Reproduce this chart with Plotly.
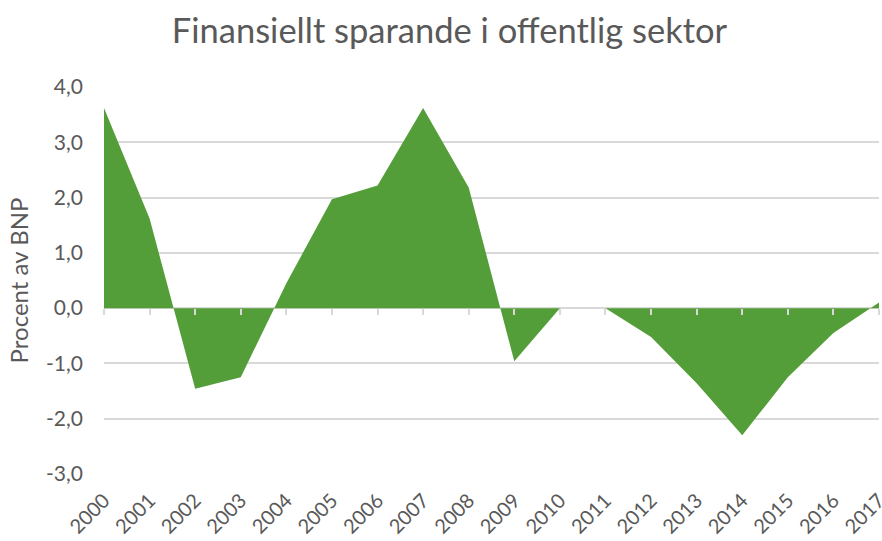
import plotly.graph_objects as go

years = [str(y) for y in range(2000, 2018)]
values = [3.62, 1.62, -1.46, -1.25, 0.45, 1.97, 2.22, 3.62, 2.18, -0.96,
          0.0, 0.0, -0.52, -1.36, -2.3, -1.25, -0.45, 0.1]
ytick_vals = [-3, -2, -1, 0, 1, 2, 3, 4]
ytick_text = [f"{v:.1f}".replace(".", ",") for v in ytick_vals]

FONT = "Lato"
GREY = "#595959"

fig = go.Figure()
fig.add_trace(go.Scatter(
    x=years, y=values, mode="lines", fill="tozeroy",
    fillcolor="#549E39", line=dict(width=0, color="#549E39"),
    hoverinfo="x+y", showlegend=False,
))
# invisible trace to carry the tick axis at y = 0
fig.add_trace(go.Scatter(x=years, y=[0] * len(years), xaxis="x2", mode="lines",
                         line=dict(width=0), hoverinfo="skip", showlegend=False))

ymin, ymax = -3, 4
zero_pos = (0 - ymin) / (ymax - ymin)

fig.update_layout(
    width=882, height=541,
    margin=dict(l=104, r=3, t=87, b=67, autoexpand=False),
    paper_bgcolor="white", plot_bgcolor="white",
    title=dict(text="Finansiellt sparande i offentlig sektor", x=0.5096, xanchor="center",
               y=0.943, yanchor="middle",
               font=dict(family=FONT, size=34.5, color=GREY)),
    font=dict(family=FONT, color=GREY),
    xaxis=dict(type="category", range=[0, 17], showgrid=False, zeroline=False,
               showline=False, ticks="", tickangle=-45, automargin=False,
               ticklabelstandoff=10,
               tickfont=dict(family=FONT, size=20, color=GREY)),
    xaxis2=dict(type="category", range=[0, 17], overlaying="x", anchor="free",
                position=zero_pos, side="bottom", showticklabels=False,
                ticks="outside", ticklen=6, tickwidth=2, tickcolor="#d9d9d9",
                showgrid=False, zeroline=False, showline=False, automargin=False),
    yaxis=dict(range=[ymin, ymax], tickvals=ytick_vals, ticktext=ytick_text,
               showgrid=True, gridcolor="#d9d9d9", gridwidth=1.5,
               zeroline=True, zerolinecolor="#d9d9d9", zerolinewidth=2,
               ticks="", ticklen=0, automargin=False, ticklabelstandoff=20,
               tickfont=dict(family=FONT, size=21, color=GREY),
               title=dict(text="Procent av BNP", standoff=10,
                          font=dict(family=FONT, size=24, color=GREY))),
)

fig.write_html("out.html", config={"displayModeBar": False},
               post_script="document.body.style.margin='0px';")
